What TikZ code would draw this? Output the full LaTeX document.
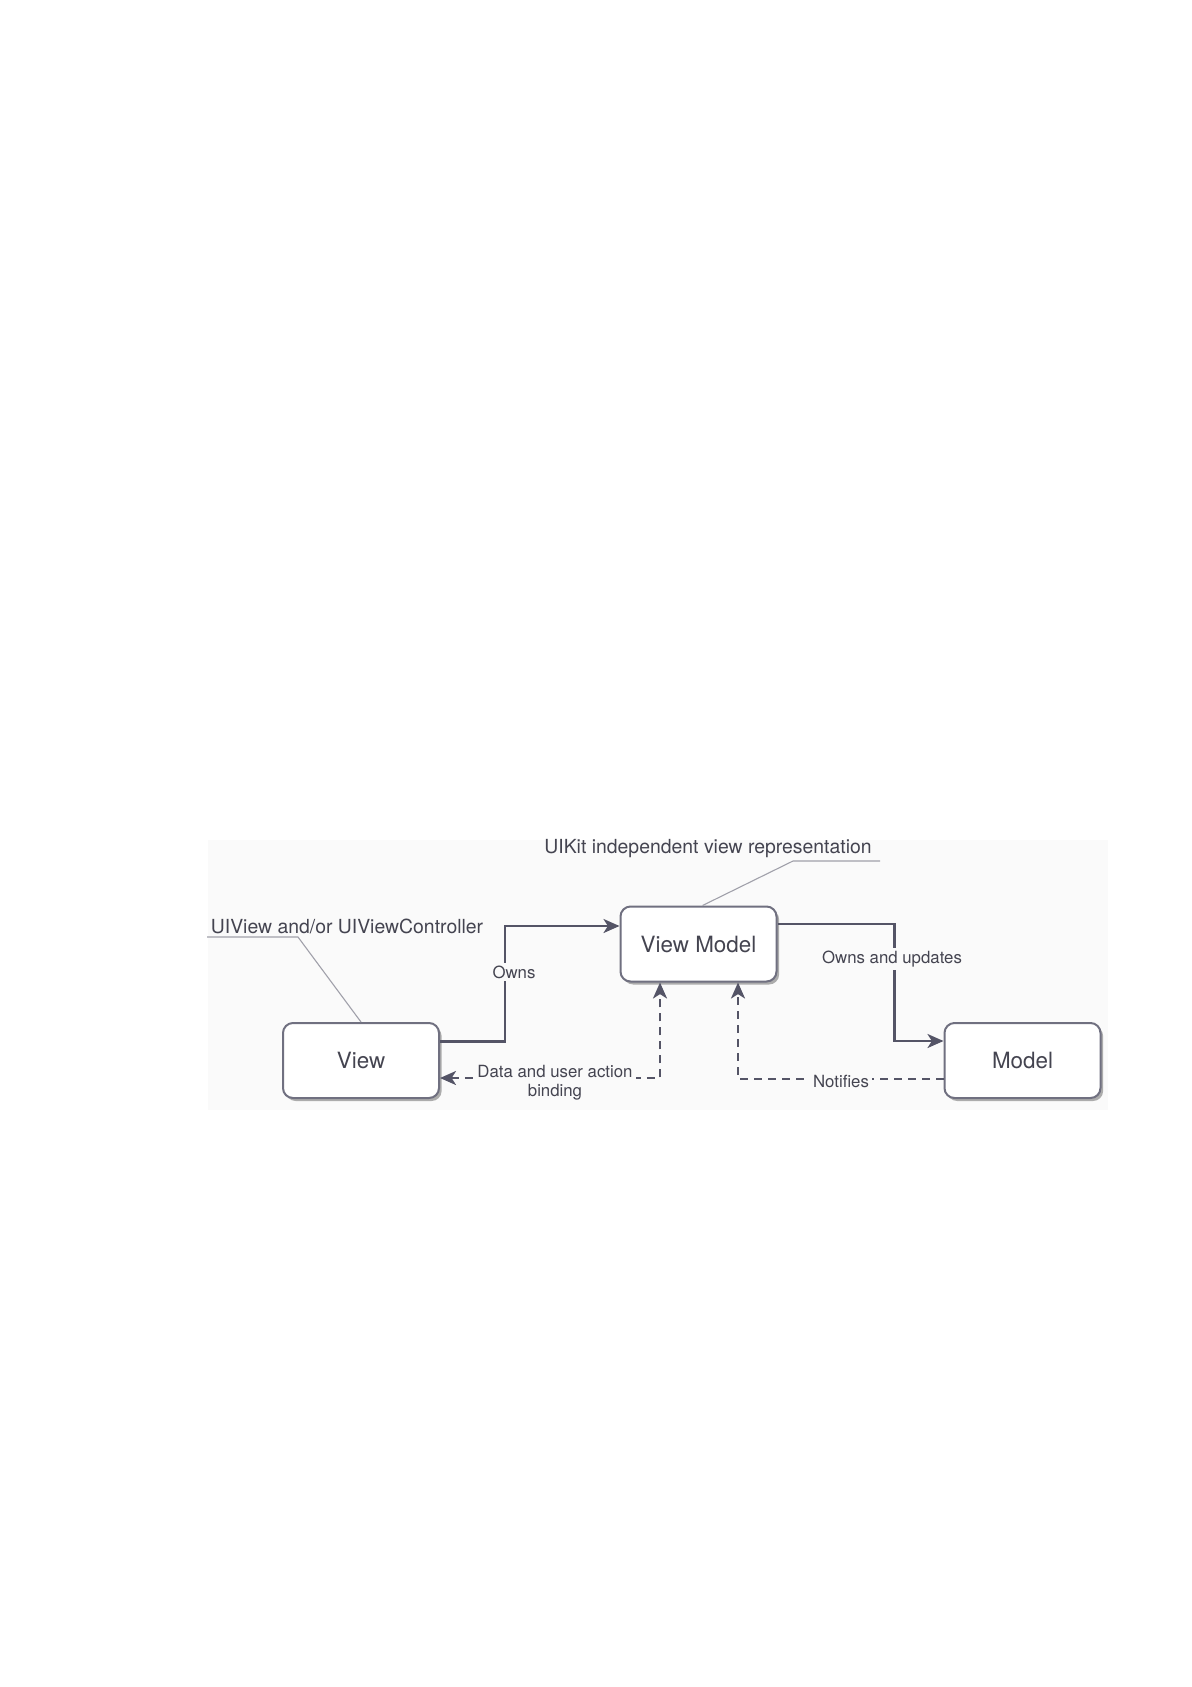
\documentclass[tikz,border=0pt]{standalone}
\usepackage{fontspec}
\setmainfont{TeX Gyre Heros}
\usepackage{tikz}
\usetikzlibrary{arrows.meta,shadows,positioning}

\definecolor{boxline}{RGB}{112,112,128}
\definecolor{linkcol}{RGB}{84,84,102}
\definecolor{txtcol}{RGB}{68,68,80}
\definecolor{leadcol}{RGB}{160,160,170}
\definecolor{bgpatch}{RGB}{250,250,250}

\begin{document}
\begin{tikzpicture}[x=0.5pt,y=-0.5pt,
      mvvmbox/.style={draw=boxline,line width=1pt,fill=white,rounded corners=5pt,
      minimum width=78pt,minimum height=37.5pt,text=txtcol,font=\fontsize{11.2}{13}\selectfont,
      drop shadow={shadow xshift=1.3pt,shadow yshift=-1.5pt,fill=black!40,opacity=0.8}},
      tip/.style={Stealth[length=8pt,width=7pt,inset=2.2pt]},
      ownsline/.style={draw=linkcol,line width=1.25pt,-{Stealth[length=8pt,width=7pt,inset=2.2pt]}},
      bindline/.style={ownsline,dash pattern=on 4pt off 3pt},
      edgelabel/.style={fill=bgpatch,inner sep=1.5pt,text=txtcol,font=\fontsize{8.4}{9.5}\selectfont,align=center},
      note/.style={inner sep=1pt,text=txtcol,font=\fontsize{9.7}{11}\selectfont},
      leader/.style={draw=leadcol,line width=0.55pt}]

    \useasboundingbox (0,0) rectangle (1192,1687);
    \fill[white] (0,0) rectangle (1192,1687);
    \fill[bgpatch] (208,840) rectangle (1108,1110);

    % the three parts
    \node[mvvmbox] (view) at (361,1060.5) {View};
    \node[mvvmbox] (vm) at (698.5,944) {View Model};
    \node[mvvmbox] (model) at (1022.5,1060.5) {Model};

    % notes
    \node[note] (uiv) at (347,926) {UIView and/or UIViewController};
    \node[note] (uik) at (708,849) {UIKit independent view representation};
    \coordinate (uivknee) at (298,937);
    \coordinate (uivend) at (207,937);
    \coordinate (uikknee) at (793,861);
    \coordinate (uikend) at (880,861);
    \draw[leader] (uivend) -- (uivknee) -- (view.north);
    \draw[leader] ([xshift=2pt]vm.north) -- (uikknee) -- (uikend);

    % ownership
    \draw[ownsline] ([yshift=9.5pt]view.east) -- ++(65,0) |- ([yshift=9pt]vm.west);
    \node[edgelabel] (ownslbl) at (514,972) {Owns};
    \draw[ownsline] ([yshift=10pt]vm.east) -- ++(117,0) |- ([yshift=9.75pt]model.west);
    \node[edgelabel] (updlbl) at (892,959) {Owns and updates};

    % binding and notification
    \draw[bindline,{Stealth[length=8pt,width=7pt,inset=2.2pt]}-{Stealth[length=8pt,width=7pt,inset=2.2pt]}]
        ([yshift=-8.75pt]view.east) -| ([xshift=-19.25pt]vm.south);
    \node[edgelabel] (bindlbl) at (555,1083) {Data and user action\\binding};
    \draw[bindline] ([yshift=-9.25pt]model.west) -| ([xshift=19.75pt]vm.south);
    \node[edgelabel] (notlbl) at (841,1081) {Notifies};

\end{tikzpicture}
\end{document}
